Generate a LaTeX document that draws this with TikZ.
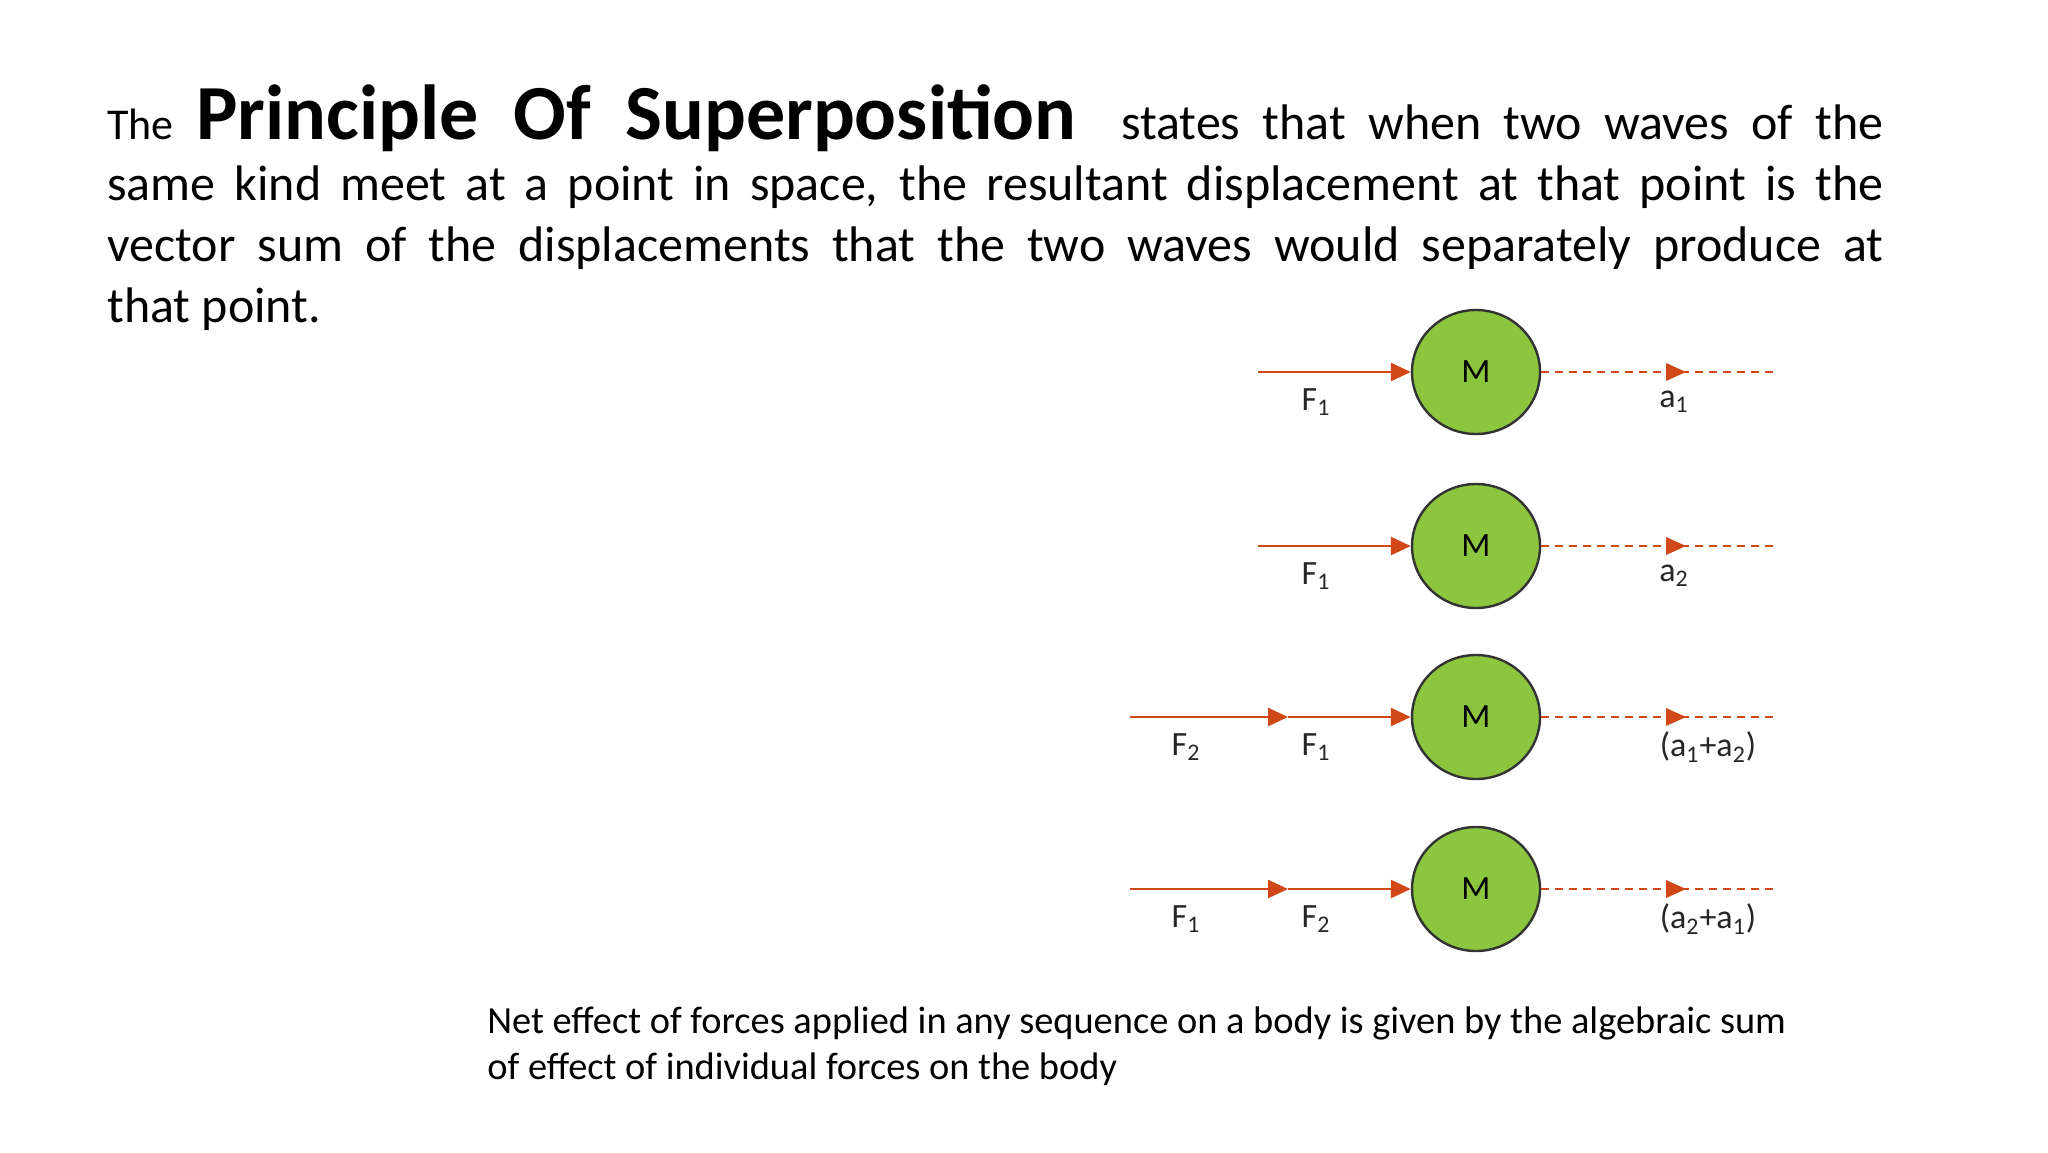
\documentclass[tikz,border=0pt]{standalone}
\usepackage{fontspec}
\setmainfont{Carlito}
\usetikzlibrary{arrows.meta,shapes.geometric}
\definecolor{frc}{RGB}{208,72,24}
\definecolor{ballg}{RGB}{140,198,63}
\tikzset{
 ball/.style={ellipse,draw=black!80,line width=1.2pt,fill=ballg,minimum width=64pt,minimum height=62pt,inner sep=0pt,font=\fontsize{17}{19}\selectfont},
 force/.style={draw=frc,line width=1.3pt},
 tipped/.style={-{Triangle[length=10pt,width=9pt]}},
 accl/.style={draw=frc,line width=1.1pt,dash pattern=on 4pt off 3pt},
 lab/.style={font=\fontsize{17}{19}\selectfont,text=black!85}
}
\begin{document}
\begin{tikzpicture}[x=0.5pt,y=-0.5pt]
\useasboundingbox (0,0) rectangle (2048,1152);
\node[anchor=north west,inner sep=0pt,text width=888pt,align=justify,font=\fontsize{25}{30.5}\selectfont] (para) at (107,84)
{{\fontsize{22}{26}\selectfont The} {\fontsize{39}{39}\selectfont\bfseries Principle\ Of\ Superposition}\ \ states that when two waves of the\linebreak
same kind meet at a point in space, the resultant displacement at that point is the\linebreak
vector sum of the displacements that the two waves would separately produce at\linebreak
that point.\par};
% rows
\foreach \i/\y in {1/372,2/546,3/717,4/889}{
  \node[ball] (m\i) at (1476,\y) {M};
  \coordinate (e\i) at (1776,\y);
  \coordinate (h\i) at (1680,\y);
}
\coordinate (s1) at (1258,372);
\coordinate (s2) at (1258,546);
\coordinate (s3) at (1130,717);
\coordinate (s4) at (1130,889);
\coordinate (k3) at (1288,717);
\coordinate (k4) at (1288,889);
\foreach \i in {1,2}{
  \draw[force,tipped] (s\i) -- (m\i.west);
}
\foreach \i in {3,4}{
  \draw[force,tipped] (s\i) -- (k\i);
  \draw[force,tipped] (k\i) -- (m\i.west);
}
\foreach \i in {1,2,3,4}{
  \draw[accl] (m\i.east) -- (e\i);
  \draw[draw=none,fill=frc] (h\i) ++(-14,-9) -- ++(0,18) -- ++(20,-9) -- cycle;
}
\node[lab] (f11) at (1316,402) {F\textsubscript{1}};
\node[lab] (f12) at (1316,576) {F\textsubscript{1}};
\node[lab] (f23) at (1186,747) {F\textsubscript{2}};
\node[lab] (f13) at (1316,747) {F\textsubscript{1}};
\node[lab] (f14) at (1186,919) {F\textsubscript{1}};
\node[lab] (f24) at (1316,919) {F\textsubscript{2}};
\node[lab] (a1) at (1674,402) {a\textsubscript{1}};
\node[lab] (a2) at (1674,576) {a\textsubscript{2}};
\node[lab] (a3) at (1708,747) {(a\textsubscript{1}+a\textsubscript{2})};
\node[lab] (a4) at (1708,919) {(a\textsubscript{2}+a\textsubscript{1})};
\node[anchor=north west,inner sep=0pt,align=left,font=\fontsize{19.2}{23}\selectfont] (note) at (487,1006)
{Net effect of forces applied in any sequence on a body is given by the algebraic sum\\
of effect of individual forces on the body};
\end{tikzpicture}
\end{document}
